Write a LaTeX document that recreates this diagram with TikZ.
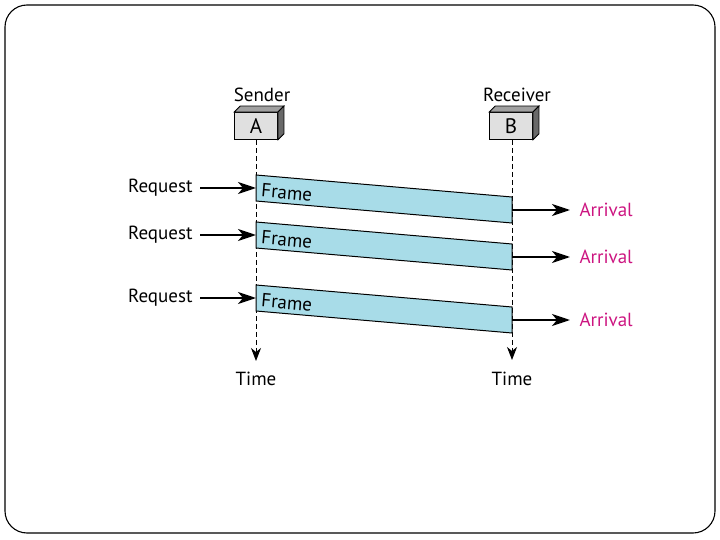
\documentclass[tikz,border=0pt]{standalone}
\usepackage{fontspec}
\setmainfont{PT Sans}
\usetikzlibrary{arrows.meta}

\definecolor{framefill}{RGB}{168,220,232}
\definecolor{arrivalcol}{RGB}{204,20,128}
\definecolor{boxfront}{RGB}{224,224,224}
\definecolor{boxtop}{RGB}{160,160,160}
\definecolor{boxside}{RGB}{105,105,105}

\begin{document}
\begin{tikzpicture}[
    x=1pt, y=-1pt,
    font=\fontsize{19}{21}\selectfont,
    station/.style={draw, fill=boxfront, minimum width=43pt, minimum height=27pt, inner sep=0pt, line width=0.8pt, font=\fontsize{21}{23}\selectfont},
    lifeline/.style={dashed, dash pattern=on 5pt off 3pt, line width=1pt, -{Stealth[length=13pt, width=10pt, inset=4pt]}},
    msg/.style={line width=1.9pt, -{Stealth[length=18pt, width=12pt, inset=5pt]}},
    frm/.style={draw, fill=framefill, line width=1pt}
]

    % Slide border
    \useasboundingbox (0,0) rectangle (720,540);
    \draw[rounded corners=22pt, line width=1.1pt] (5,5) rectangle (715,533);

    % Stations
    \node[station] (boxA) at (256,126) {A};
    \node[station] (boxB) at (511,126) {B};
    \foreach \b in {boxA, boxB} {
        \draw[fill=boxtop, line width=0.8pt] (\b.north west) -- ++(6,-6) -- ([shift={(6,-6)}]\b.north east) -- (\b.north east) -- cycle;
        \draw[fill=boxside, line width=0.8pt] (\b.north east) -- ++(6,-6) -- ([shift={(6,-6)}]\b.south east) -- (\b.south east) -- cycle;
    }
    \node[above=7pt] (sender) at ([xshift=6pt]boxA.north) {Sender};
    \node[above=7pt] (receiver) at ([xshift=6pt]boxB.north) {Receiver};

    % Lifelines
    \coordinate (endA) at (256,361);
    \coordinate (endB) at (512,360);
    \draw[lifeline] (boxA.south) -- (endA);
    \draw[lifeline] ([xshift=1pt]boxB.south) -- (endB);
    \node (timeA) at (256,379) {Time};
    \node (timeB) at (512,379) {Time};

    % Frames
    \foreach \i/\yt in {1/175, 2/222, 3/285} {
        \coordinate (lt\i) at (256,\yt);
        \coordinate (rt\i) at (512,\yt+22);
        \coordinate (rb\i) at (512,\yt+48);
        \coordinate (lb\i) at (256,\yt+26);
        \coordinate (lm\i) at (256,\yt+13);
        \coordinate (rm\i) at (512,\yt+35);
        \draw[frm] (lt\i) -- (rt\i) -- (rb\i) -- (lb\i) -- cycle;
        \node[anchor=west, rotate=-4.9] (frame\i) at (258,\yt+15) {Frame};

        % Request and arrival
        \node[anchor=east] (req\i) at (196,\yt+13) {Request};
        \draw[msg] ([xshift=4pt]req\i.east) -- (lm\i);
        \node[anchor=west, text=arrivalcol] (arr\i) at (576,\yt+35) {Arrival};
        \draw[msg] (rm\i) -- ([xshift=-6pt]arr\i.west);
    }

\end{tikzpicture}
\end{document}
